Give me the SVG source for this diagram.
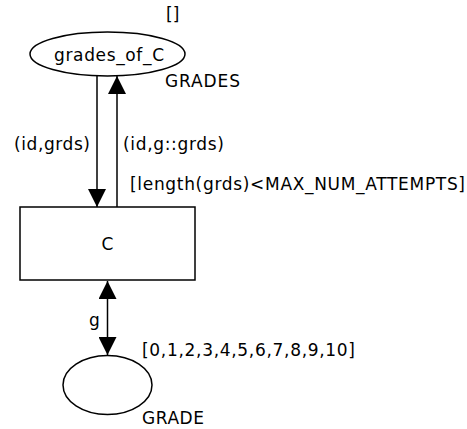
<svg xmlns="http://www.w3.org/2000/svg" width="467" height="429" viewBox="0 0 467 429">
<style>
.shape{fill:#fff;stroke:#000;stroke-width:1.5}
.arc{fill:none;stroke:#000;stroke-width:1.5}
text{font-family:"DejaVu Sans",Verdana,sans-serif;font-size:17px;fill:#000}
</style>
<defs>
<marker id="ah" markerUnits="userSpaceOnUse" markerWidth="18" markerHeight="18" viewBox="0 0 16 16" refX="16" refY="8" orient="auto-start-reverse">
<path d="M0,0 L16,8 L0,16 Z" fill="#000"/>
</marker>
</defs>
<rect width="467" height="429" fill="#fff"/>
<g id="connectors">
<line class="arc" x1="97" y1="76" x2="97" y2="207" marker-end="url(#ah)"/>
<line class="arc" x1="117" y1="207" x2="117" y2="76" marker-end="url(#ah)"/>
<line class="arc" x1="107.5" y1="281" x2="107.5" y2="355" marker-start="url(#ah)" marker-end="url(#ah)"/>
<text x="14" y="150" textLength="76" lengthAdjust="spacing">(id,grds)</text>
<text x="123" y="150" textLength="101" lengthAdjust="spacing">(id,g::grds)</text>
<text x="130" y="190" textLength="335" lengthAdjust="spacing">[length(grds)&lt;MAX_NUM_ATTEMPTS]</text>
<text x="89" y="326">g</text>
</g>
<g id="grades_of_C">
<ellipse class="shape" cx="107.5" cy="54" rx="77.5" ry="22"/>
<text x="54" y="61" textLength="110" lengthAdjust="spacing">grades_of_C</text>
<text x="166" y="20">[]</text>
<text x="165" y="87" textLength="75" lengthAdjust="spacing">GRADES</text>
</g>
<g id="C">
<rect class="shape" x="20" y="207" width="175" height="73"/>
<text x="107.5" y="250" text-anchor="middle">C</text>
</g>
<g id="grade">
<ellipse class="shape" cx="107.5" cy="385" rx="44.5" ry="29.5"/>
<text x="142" y="356" textLength="213" lengthAdjust="spacing">[0,1,2,3,4,5,6,7,8,9,10]</text>
<text x="142" y="424" textLength="62" lengthAdjust="spacing">GRADE</text>
</g>
</svg>
